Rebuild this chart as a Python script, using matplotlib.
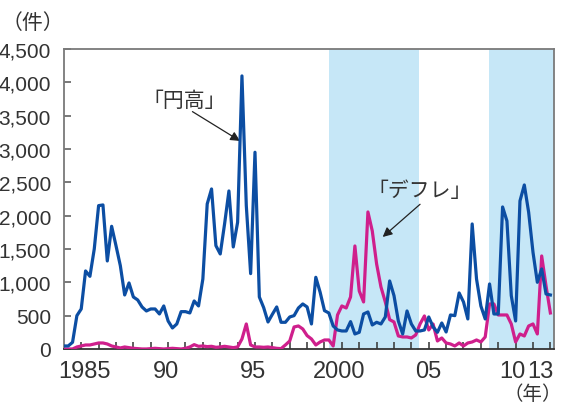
import numpy as np
import matplotlib
matplotlib.use("Agg")
import matplotlib.pyplot as plt

plt.rcParams['font.family'] = ['Liberation Sans Narrow', 'Liberation Sans', 'Noto Sans CJK JP', 'DejaVu Sans']

# quarterly counts, 1984 Q1 onwards
start_year = 1984
yen_high = [45, 45, 100, 500, 600, 1170, 1090, 1500, 2150, 2160,
            1320, 1840, 1550, 1250, 810, 990, 780, 735, 630, 570,
            600, 600, 525, 645, 420, 315, 375, 560, 560, 540,
            720, 645, 1050, 2175, 2400, 1550, 1425, 1875, 2370, 1530,
            1900, 4095, 2150, 1130, 2950, 780, 620, 405, 520, 630,
            400, 400, 480, 500, 615, 675, 630, 375, 1075, 850,
            575, 540, 345, 285, 270, 270, 410, 225, 250, 525,
            555, 360, 400, 375, 480, 1020, 800, 420, 225, 570,
            375, 270, 270, 285, 480, 330, 250, 390, 255, 510,
            500, 840, 705, 450, 1875, 1050, 645, 450, 975, 525,
            525, 2130, 1920, 800, 420, 2220, 2460, 2050, 1450, 1000,
            1200, 825, 810]
deflation = [0, 0, 0, 30, 45, 60, 60, 75, 90, 90,
             75, 45, 30, 15, 30, 20, 10, 5, 0, 0,
             5, 10, 5, 0, 5, 10, 5, 0, 10, 30,
             65, 40, 45, 35, 40, 25, 30, 40, 30, 20,
             30, 150, 375, 60, 30, 30, 25, 30, 20, 10,
             5, 60, 120, 330, 345, 300, 200, 150, 60, 105,
             135, 135, 45, 510, 645, 615, 780, 1545, 870, 705,
             2055, 1770, 1275, 930, 705, 440, 405, 195, 180, 180,
             165, 210, 375, 495, 285, 375, 120, 165, 90, 75,
             45, 90, 45, 90, 105, 135, 105, 180, 675, 675,
             510, 510, 510, 375, 105, 225, 195, 345, 375, 225,
             1395, 945, 540]
shade_spans = [(1999.27, 2004.43), (2008.44, 2012.2)]
tick_text = ['1985', '90', '95', '2000', '05', '10', '13']
tick_pos = [1985.2, 1989.9, 1994.9, 1999.85, 2005.0, 2009.8, 2011.45]

x = start_year + np.arange(len(yen_high)) / 4.0

fig = plt.figure(figsize=(5.64, 4.06), dpi=100)
ax = fig.add_axes([0.1126, 0.138, 0.8694, 0.739])

for a, b in shade_spans:
    ax.axvspan(a, b, color='#c6e7f7', lw=0, zorder=0)

ax.plot(x, deflation, color='#cf1f8c', lw=2.3, zorder=3, solid_joinstyle='round')
ax.plot(x, yen_high, color='#0c4ea3', lw=2.3, zorder=4, solid_joinstyle='round')

ax.set_xlim(1983.98, 2012.2)
ax.set_ylim(0, 4500)

txt = '#333333'
jp = ['Noto Sans CJK JP', 'DejaVu Sans']
yt = np.arange(0, 4501, 500)
ax.set_yticks(yt)
ax.set_yticklabels(['{:,}'.format(v) for v in yt], fontsize=15, color=txt)
ax.set_xticks(np.arange(1985, 2013))
ax.set_xticklabels([])
ax.tick_params(axis='y', direction='in', length=5, width=1.1, color='#555555', pad=9)
ax.tick_params(axis='x', direction='in', length=5, width=1.1, color='#333333')

for s in ['left', 'top', 'right']:
    ax.spines[s].set_color('#7a7a7a')
    ax.spines[s].set_linewidth(1.3)
ax.spines['bottom'].set_color('#333333')
ax.spines['bottom'].set_linewidth(1.3)

for t, p in zip(tick_text, tick_pos):
    ax.text(p, -0.075, t, transform=ax.get_xaxis_transform(), ha='center', va='center',
            fontsize=17, color=txt)

fig.text(33 / 564, 1 - 23 / 406, '（件）', ha='center', va='center', fontsize=15,
         color=txt, family=jp)
fig.text(562 / 564, 1 - 395 / 406, '（年）', ha='right', va='center', fontsize=14,
         color=txt, family=jp)

# labels with arrows
ax.text(1990.95, 3735, '「円高」', ha='center', va='center', fontsize=15, color=txt, family=jp)
ax.annotate('', xy=(1994.14, 3120), xytext=(1991.4, 3560),
            arrowprops=dict(arrowstyle='-|>', color='#222222', lw=0.9, mutation_scale=14,
                            shrinkA=0, shrinkB=0))
ax.text(2004.45, 2380, '「デフレ」', ha='center', va='center', fontsize=15, color=txt, family=jp)
ax.annotate('', xy=(2002.35, 1680), xytext=(2004.5, 2170),
            arrowprops=dict(arrowstyle='-|>', color='#222222', lw=0.9, mutation_scale=14,
                            shrinkA=0, shrinkB=0))

fig.savefig('out.png', dpi=100)
